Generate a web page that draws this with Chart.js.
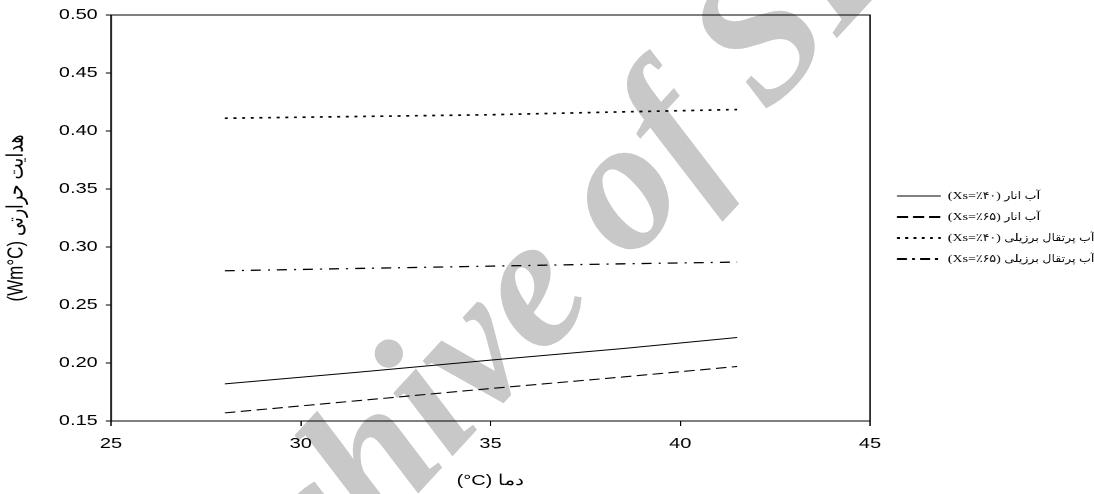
<!DOCTYPE html>
<html>
<head>
<meta charset="utf-8">
<script src="https://cdn.jsdelivr.net/npm/chart.js@4.4.1/dist/chart.umd.min.js"></script>
<style>
  html, body { margin: 0; padding: 0; background: #ffffff; overflow: hidden; }
  #wrap { position: relative; width: 1094px; height: 494px; overflow: hidden; }
  #wm {
    position: absolute; left: 72px; top: 638px;
    transform-origin: 0 0; transform: rotate(-47.4deg);
    font: italic bold 188px "Liberation Serif", serif;
    line-height: 1; color: #c8c8c8; white-space: nowrap; z-index: 0;
  }
  #cv { position: absolute; left: 0; top: 0; transform-origin: 0 0; z-index: 1; }
</style>
</head>
<body>
<div id="wrap">
  <div id="wm">Archive of SID</div>
  <canvas id="cv" width="823" height="494"></canvas>
</div>
<script>
// ---- data ----
const temperatures      = [28, 31.5, 35, 38.5, 41.5];
const pomegranate40     = [0.182, 0.192, 0.2025, 0.2125, 0.222];
const pomegranate65     = [0.157, 0.1675, 0.178, 0.188, 0.197];
const orange40          = [0.411, 0.4125, 0.414, 0.4165, 0.4185];
const orange65          = [0.2795, 0.2815, 0.2835, 0.2855, 0.287];
const seriesLabels = [
  '(Xs=٪۴۰) آب انار',
  '(Xs=٪۶۵) آب انار',
  '(Xs=٪۴۰) آب پرتقال برزیلی',
  '(Xs=٪۶۵) آب پرتقال برزیلی'
];
const xTickValues = [25, 30, 35, 40, 45];
const yTickValues = [0.15, 0.20, 0.25, 0.30, 0.35, 0.40, 0.45, 0.50];
const xTitle = '(°C) دما';
const yTitle = '(Wm°C) هدایت حرارتی';

// ---- styling ----
const CW = 823;                 // logical canvas width (picture is stretched horizontally)
const STRETCH = 1094 / CW;
const PLOT_LEFT = 83.5;
const PLOT_RIGHT = 654.5;
const LEGEND_X = 674.8;
const LEGEND_FONT = 10.5;
const LEGEND_PAD = 10.5;
const LEGEND_TOP = 196 - LEGEND_PAD - LEGEND_FONT / 2;
const plotDashes   = [[], [8, 4], [2.2, 4.3], [7.5, 5.3, 1.5, 5.3]];
const plotWidths   = [1, 1.1, 1.7, 1.3];
const legendDashes = [[], [8.3, 3.8], [2.2, 4], [7.5, 3.8, 2.2, 3.8]];
const legendWidths = [1, 2, 2, 2];
const FONT_SANS = '"Liberation Sans", Arial, sans-serif';
const FONT_LEGEND = '"Liberation Serif", "DejaVu Sans Condensed", "DejaVu Sans", serif';

const seriesValues = [pomegranate40, pomegranate65, orange40, orange65];
const datasets = seriesValues.map((vals, i) => ({
  label: seriesLabels[i],
  data: temperatures.map((t, j) => ({ x: t, y: vals[j] })),
  borderColor: '#000000',
  backgroundColor: '#000000',
  borderWidth: plotWidths[i],
  borderDash: plotDashes[i],
  pointRadius: 0,
  pointHoverRadius: 0,
  fill: false,
  tension: 0
}));

const legendPlace = {
  id: 'legendPlace',
  beforeUpdate(chart) {
    const lg = chart.legend;
    if (lg && !lg._fixedFit) {
      const orig = lg.fit;
      lg.fit = function () { orig.call(this); this.width = CW - PLOT_RIGHT; };
      lg._fixedFit = true;
    }
  },
  afterLayout(chart) {
    const lg = chart.legend;
    if (!lg) return;
    lg.left = LEGEND_X - LEGEND_PAD;
    lg.right = lg.left + (CW - PLOT_RIGHT);
    lg.top = LEGEND_TOP;
    lg.bottom = LEGEND_TOP + 160;
  }
};

const frame = {
  id: 'frame',
  beforeDatasetsDraw(chart) {
    const { ctx, chartArea: { left, right, top, bottom } } = chart;
    ctx.save();
    ctx.strokeStyle = '#000000';
    ctx.lineWidth = 1;
    ctx.beginPath();
    ctx.moveTo(left, top);
    ctx.lineTo(right, top);
    ctx.lineTo(right, bottom);
    ctx.stroke();
    ctx.restore();
  }
};

const canvas = document.getElementById('cv');
const chart = new Chart(canvas, {
  type: 'line',
  data: { datasets },
  plugins: [legendPlace, frame],
  options: {
    responsive: false,
    animation: false,
    devicePixelRatio: 2,
    layout: { padding: { top: 14, left: 0, right: 0, bottom: 0 } },
    plugins: {
      legend: {
        position: 'right',
        align: 'start',
        labels: {
          usePointStyle: true,
          pointStyle: 'line',
          pointStyleWidth: 33,
          boxWidth: 33,
          boxHeight: LEGEND_FONT,
          padding: LEGEND_PAD,
          color: '#000000',
          font: { family: FONT_LEGEND, size: LEGEND_FONT },
          generateLabels(ch) {
            const items = Chart.defaults.plugins.legend.labels.generateLabels(ch);
            items.forEach((it, i) => {
              it.lineWidth = legendWidths[i];
              it.lineDash = legendDashes[i];
              it.pointStyle = 'line';
              it.strokeStyle = '#000000';
            });
            return items;
          }
        }
      },
      tooltip: { enabled: false }
    },
    scales: {
      x: {
        type: 'linear',
        min: xTickValues[0],
        max: xTickValues[xTickValues.length - 1],
        afterBuildTicks(s) { s.ticks = xTickValues.map(v => ({ value: v })); },
        afterFit(s) { s.height = 73; },
        ticks: { color: '#000000', font: { family: FONT_SANS, size: 15 }, padding: 9, maxRotation: 0 },
        grid: { drawOnChartArea: false, tickLength: 5, color: '#000000', tickColor: '#000000' },
        border: { display: true, color: '#000000', width: 1 },
        title: { display: true, text: xTitle, color: '#000000', font: { family: FONT_SANS, size: 15 }, padding: { top: 0, bottom: 4 } }
      },
      y: {
        min: yTickValues[0],
        max: yTickValues[yTickValues.length - 1],
        afterBuildTicks(s) { s.ticks = yTickValues.map(v => ({ value: v })); },
        afterFit(s) { s.width = PLOT_LEFT; },
        ticks: { color: '#000000', font: { family: FONT_SANS, size: 15 }, padding: 6, callback: v => Number(v).toFixed(2) },
        grid: { drawOnChartArea: false, tickLength: 4, color: '#000000', tickColor: '#000000' },
        border: { display: true, color: '#000000', width: 1.2 },
        title: { display: true, text: yTitle, color: '#000000', font: { family: FONT_SANS, size: 17 }, padding: { top: 2, bottom: 0 } }
      }
    }
  }
});
canvas.style.transform = 'scaleX(' + STRETCH + ')';
</script>
</body>
</html>
